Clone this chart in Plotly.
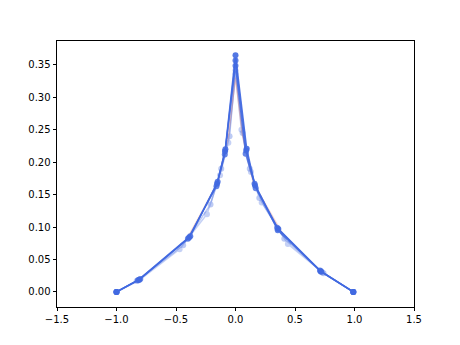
import plotly.graph_objects as go

# Main series (opaque royal blue)
x_a = [-1.0, -0.81, -0.39, -0.155, -0.088, 0.0, 0.094, 0.164, 0.36, 0.716, 0.99]
y_a = [0.0, 0.019, 0.084, 0.167, 0.217, 0.365, 0.221, 0.164, 0.097, 0.032, 0.0]

x_b = [-1.0, -0.82, -0.38, -0.15, -0.085, 0.0, 0.09, 0.16, 0.355, 0.72, 0.99]
y_b = [0.0, 0.018, 0.086, 0.17, 0.22, 0.357, 0.218, 0.167, 0.095, 0.031, 0.0]

x_c = [-1.0, -0.8, -0.4, -0.16, -0.09, 0.0, 0.085, 0.17, 0.35, 0.71, 0.99]
y_c = [0.0, 0.02, 0.082, 0.163, 0.212, 0.349, 0.213, 0.16, 0.099, 0.033, 0.0]

# Lighter (semi-transparent) series
x_d = [-1.0, -0.83, -0.44, -0.21, -0.12, -0.05, 0.0, 0.06, 0.12, 0.2, 0.41, 0.74, 0.99]
y_d = [0.0, 0.017, 0.072, 0.135, 0.19, 0.24, 0.342, 0.245, 0.19, 0.145, 0.082, 0.029, 0.0]

x_e = [-1.0, -0.81, -0.47, -0.24, -0.13, -0.06, 0.0, 0.05, 0.13, 0.22, 0.44, 0.73, 0.99]
y_e = [0.0, 0.018, 0.066, 0.12, 0.18, 0.23, 0.336, 0.25, 0.185, 0.138, 0.074, 0.03, 0.0]

# Faint red line near the peak
x_r = [-0.4, -0.15, -0.06, 0.0, 0.06, 0.15, 0.4]
y_r = [0.084, 0.168, 0.24, 0.33, 0.24, 0.168, 0.088]

x_ticks = [-1.5, -1.0, -0.5, 0.0, 0.5, 1.0, 1.5]
y_ticks = [0.0, 0.05, 0.10, 0.15, 0.20, 0.25, 0.30, 0.35]

fig = go.Figure()
blue = "#4169E1"

for xs, ys, op in [(x_e, y_e, 0.3), (x_d, y_d, 0.35)]:
    fig.add_trace(go.Scatter(x=xs, y=ys, mode="lines+markers", opacity=op,
                             line=dict(color=blue, width=1.5),
                             marker=dict(color=blue, size=6, line=dict(width=0)),
                             showlegend=False, hoverinfo="skip"))

fig.add_trace(go.Scatter(x=x_r, y=y_r, mode="lines", opacity=0.3,
                         line=dict(color="#e8735a", width=1.5),
                         showlegend=False, hoverinfo="skip"))

for xs, ys, op in [(x_c, y_c, 0.8), (x_b, y_b, 0.85), (x_a, y_a, 0.9)]:
    fig.add_trace(go.Scatter(x=xs, y=ys, mode="lines+markers", opacity=op,
                             line=dict(color=blue, width=1.5),
                             marker=dict(color=blue, size=6, line=dict(width=0)),
                             showlegend=False, hoverinfo="skip"))

axis_common = dict(showline=True, linecolor="black", linewidth=0.8, mirror=True,
                   ticks="outside", ticklen=3.5, tickwidth=0.8, tickcolor="black",
                   showgrid=False, zeroline=False,
                   tickfont=dict(family="DejaVu Sans", size=10, color="black"))

fig.update_layout(
    width=460, height=345,
    margin=dict(l=57, r=46, t=41, b=38),
    plot_bgcolor="white", paper_bgcolor="white",
    xaxis=dict(range=[-1.5, 1.5], tickvals=x_ticks,
               ticktext=[f"{v:.1f}".replace("-", "\u2212") for v in x_ticks], **axis_common),
    yaxis=dict(range=[-0.0232, 0.387], tickvals=y_ticks,
               ticktext=[f"{v:.2f}" for v in y_ticks], **axis_common),
)

fig.write_html("out.html")
